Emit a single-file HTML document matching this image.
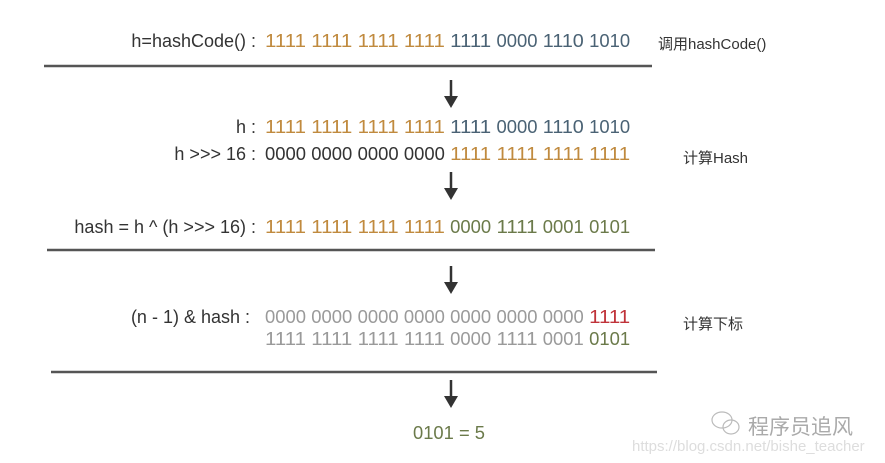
<!DOCTYPE html>
<html><head><meta charset="utf-8"><style>
html,body{margin:0;padding:0;background:#fff;}
svg{display:block;font-family:"Liberation Sans Narrow","Liberation Sans","Noto Sans CJK SC",sans-serif;}
</style></head><body>
<svg id="d" width="885" height="463" viewBox="0 0 885 463" xmlns="http://www.w3.org/2000/svg">
<g id="lines" font-size="18"></g>
<line x1="44" y1="66" x2="652" y2="66" stroke="#555" stroke-width="2.5"/>
<line x1="47" y1="250" x2="655" y2="250" stroke="#555" stroke-width="2.5"/>
<line x1="51" y1="372" x2="657" y2="372" stroke="#555" stroke-width="2.5"/>
<g fill="#333">
<line x1="451" y1="80" x2="451" y2="98" stroke="#333" stroke-width="2.5"/><path d="M444,96 L451,108 L458,96 Z"/>
<line x1="451" y1="172" x2="451" y2="190" stroke="#333" stroke-width="2.5"/><path d="M444,188 L451,200 L458,188 Z"/>
<line x1="451" y1="266" x2="451" y2="284" stroke="#333" stroke-width="2.5"/><path d="M444,282 L451,294 L458,282 Z"/>
<line x1="451" y1="380" x2="451" y2="398" stroke="#333" stroke-width="2.5"/><path d="M444,396 L451,408 L458,396 Z"/>
</g>
<text x="449" y="439" font-size="18" fill="#6b7a4a" text-anchor="middle" textLength="72" lengthAdjust="spacingAndGlyphs">0101 = 5</text>
<text x="658" y="49" font-size="15" fill="#333">调用hashCode()</text>
<text x="683" y="163" font-size="15" fill="#333">计算Hash</text>
<text x="683" y="329" font-size="15" fill="#333">计算下标</text>
<text x="748" y="434" font-size="21" fill="#aaa">程序员追风</text>
<text x="632" y="451" font-size="15" fill="#ddd">https://blog.csdn.net/bishe_teacher</text>
<g fill="none" stroke="#bbb" stroke-width="1.2"><ellipse cx="722" cy="420" rx="10" ry="8"/><ellipse cx="731" cy="427" rx="8" ry="7"/></g>
</svg>
<script>
const rowLabels=["h=hashCode() :","h :","h >>> 16 :","hash = h ^ (h >>> 16) :","(n  -  1) & hash :",""];
const rowBits=[
["1111","1111","1111","1111","1111","0000","1110","1010"],
["1111","1111","1111","1111","1111","0000","1110","1010"],
["0000","0000","0000","0000","1111","1111","1111","1111"],
["1111","1111","1111","1111","0000","1111","0001","0101"],
["0000","0000","0000","0000","0000","0000","0000","1111"],
["1111","1111","1111","1111","0000","1111","0001","0101"]];
const rowColors=[
["o","o","o","o","b","b","b","b"],["o","o","o","o","b","b","b","b"],
["k","k","k","k","o","o","o","o"],["o","o","o","o","g","g","g","g"],
["y","y","y","y","y","y","y","r"],["y","y","y","y","y","y","y","g"]];
const rowY=[47,133,160,233,323,345];
const pal={o:"#c08a3e",b:"#4a6274",k:"#333",g:"#6b7a4a",y:"#9a9a9a",r:"#c0333a"};
const ns="http://www.w3.org/2000/svg";
const g=document.getElementById("lines");
rowBits.forEach((bits,r)=>{
  if(rowLabels[r]){
    const t=document.createElementNS(ns,"text");
    
    
    t.setAttribute("x",r===4?250:256);t.setAttribute("y",rowY[r]);
    t.setAttribute("text-anchor","end");t.setAttribute("fill","#333");
    t.textContent=rowLabels[r];g.appendChild(t);
  }
  bits.forEach((b,i)=>{
    const t=document.createElementNS(ns,"text");
    
    
    t.setAttribute("x",265+i*46.3);t.setAttribute("y",rowY[r]);
    t.setAttribute("textLength","41");t.setAttribute("lengthAdjust","spacingAndGlyphs");
    t.setAttribute("fill",pal[rowColors[r][i]]);
    t.textContent=b;g.appendChild(t);
  });
});
</script>
</body></html>
